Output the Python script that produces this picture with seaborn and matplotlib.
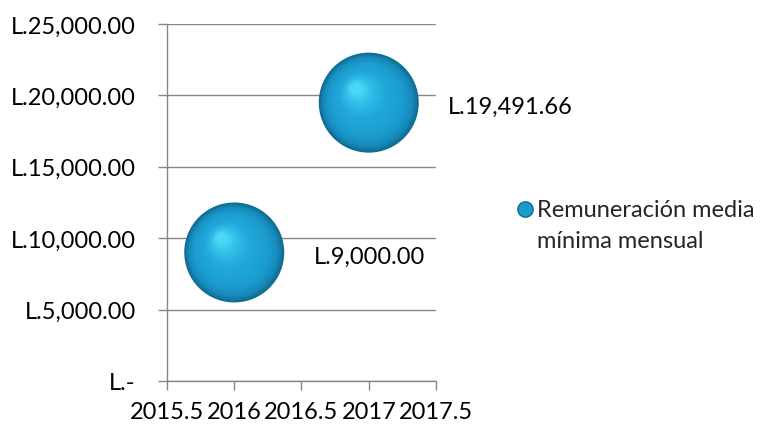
import matplotlib
matplotlib.use("Agg")
import matplotlib.pyplot as plt
import matplotlib.transforms as mtransforms
from matplotlib.colors import LinearSegmentedColormap
from matplotlib.ticker import FuncFormatter, MultipleLocator
from matplotlib.lines import Line2D
import seaborn as sns
import pandas as pd
import numpy as np

years = [2016, 2017]
salario = [9000.00, 19491.66]
etiquetas = ["L.9,000.00", "L.19,491.66"]
serie = "Remuneración media\nmínima mensual"

df = pd.DataFrame({"anio": years, "valor": salario})

sns.set_theme(style="white")
plt.rcParams["font.family"] = ["Lato", "DejaVu Sans"]
FS = 17

fig = plt.figure(figsize=(7.71, 4.27), dpi=100)
ax = fig.add_axes([0.2166, 0.1054, 0.3489, 0.8361])

# esfera con brillo: capas concentricas desplazadas hacia arriba-izquierda
cmap = LinearSegmentedColormap.from_list(
    "esfera", [(0.0, "#0f6c92"), (0.10, "#1689b9"), (0.28, "#1c9ccf"),
               (0.60, "#21a8da"), (0.85, "#33c0e9"), (1.0, "#4cd6f5")])
n = 28
for i, t in enumerate(np.linspace(0, 1, n)):
    frac = 1.0 - 0.88 * t
    tr = mtransforms.offset_copy(ax.transData, fig=fig, x=-9 * t ** 1.3,
                                 y=10 * t ** 1.3, units="points")
    sns.scatterplot(data=df, x="anio", y="valor", s=5184 * frac ** 2,
                    color=cmap(t), edgecolor="none", linewidth=0,
                    transform=tr, zorder=3, ax=ax, legend=False)

for x, y, t in zip(years, salario, etiquetas):
    ax.annotate(t, (x, y), xytext=(57, -2.5), textcoords="offset points",
                fontsize=FS, va="center", ha="left", color="black")

ax.set_xlim(2015.5, 2017.5)
ax.set_ylim(0, 25000)
ax.xaxis.set_major_locator(MultipleLocator(0.5))
ax.yaxis.set_major_locator(MultipleLocator(5000))
ax.xaxis.set_major_formatter(FuncFormatter(lambda v, p: f"{v:g}"))
ax.yaxis.set_major_formatter(FuncFormatter(lambda v, p: "L.-" if v == 0 else f"L.{v:,.2f}"))

ax.grid(axis="y", color="#868686", linewidth=1)
ax.set_axisbelow(True)
for s in ["top", "right"]:
    ax.spines[s].set_visible(False)
for s in ["left", "bottom"]:
    ax.spines[s].set_color("#868686")
    ax.spines[s].set_linewidth(1)
ax.tick_params(axis="both", which="major", length=6.5, width=1, color="#868686",
               labelsize=FS, labelcolor="black", direction="out",
               left=True, bottom=True)
ax.tick_params(axis="y", pad=16)
ax.tick_params(axis="x", pad=8)
ax.set_xlabel("")
ax.set_ylabel("")

handle = Line2D([], [], marker="o", linestyle="none", markersize=11,
                markerfacecolor="#1a9bcc", markeredgecolor="#0c6a8f")
leg = fig.legend([handle], [serie], loc="center left", bbox_to_anchor=(0.6654, 0.4707),
                 frameon=False, fontsize=FS, handletextpad=0.0, borderaxespad=0,
                 borderpad=0, handlelength=1.0)
for txt in leg.get_texts():
    txt.set_linespacing(1.6)
# marcador alineado con la primera linea del texto
h = leg.legend_handles[0]
h.set_ydata(np.asarray(h.get_ydata()) + 11.5)

fig.savefig("out.png", dpi=100)
